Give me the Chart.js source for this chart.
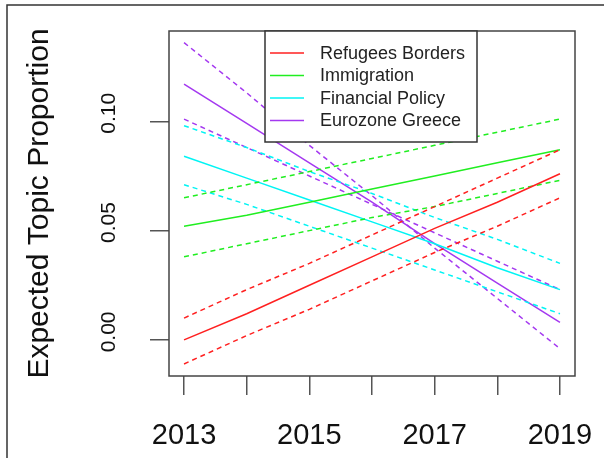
<!DOCTYPE html>
<html>
<head>
<meta charset="utf-8">
<script src="https://cdn.jsdelivr.net/npm/chart.js@4.4.0/dist/chart.umd.min.js"></script>
<style>
  html, body { margin: 0; padding: 0; background: #fff; }
  canvas { display: block; }
</style>
</head>
<body>
<canvas id="chart" width="604" height="458"></canvas>
<script>
// values, one point per year
const years = [2013, 2014, 2015, 2016, 2017, 2018, 2019];
const topics = ['Refugees Borders', 'Immigration', 'Financial Policy', 'Eurozone Greece'];
const yTickValues = [0.00, 0.05, 0.10];

const refugeesMean  = [0.000, 0.012, 0.025, 0.038, 0.051, 0.063, 0.076];
const refugeesUpper = [0.010, 0.023, 0.035, 0.048, 0.061, 0.074, 0.087];
const refugeesLower = [-0.011, 0.002, 0.014, 0.027, 0.040, 0.052, 0.065];

const immigrationMean  = [0.052, 0.057, 0.063, 0.069, 0.075, 0.081, 0.087];
const immigrationUpper = [0.065, 0.071, 0.077, 0.083, 0.089, 0.095, 0.101];
const immigrationLower = [0.038, 0.044, 0.050, 0.056, 0.061, 0.067, 0.073];

const financialMean  = [0.084, 0.074, 0.064, 0.054, 0.044, 0.033, 0.023];
const financialUpper = [0.098, 0.088, 0.077, 0.067, 0.056, 0.046, 0.035];
const financialLower = [0.071, 0.062, 0.052, 0.042, 0.032, 0.022, 0.012];

const eurozoneMean  = [0.117, 0.099, 0.081, 0.063, 0.044, 0.026, 0.008];
const eurozoneUpper = [0.136, 0.113, 0.089, 0.066, 0.042, 0.019, -0.004];
const eurozoneLower = [0.101, 0.088, 0.075, 0.062, 0.049, 0.036, 0.023];

const colors = ['#ff2020', '#20ee20', '#00f4f4', '#a438f0'];
const FONT = '"Liberation Sans", Arial, sans-serif';

const series = [
  [refugeesMean, refugeesUpper, refugeesLower],
  [immigrationMean, immigrationUpper, immigrationLower],
  [financialMean, financialUpper, financialLower],
  [eurozoneMean, eurozoneUpper, eurozoneLower]
];

const datasets = [];
series.forEach((s, i) => {
  s.forEach((vals, j) => {
    datasets.push({
      label: j === 0 ? topics[i] : topics[i] + ' CI',
      data: years.map((yr, k) => ({ x: yr, y: vals[k] })),
      borderColor: colors[i],
      borderWidth: 1.5,
      borderDash: j === 0 ? [] : [5, 4],
      pointRadius: 0,
      tension: 0,
      fill: false
    });
  });
});

// R style bits: outer frame, plot box, rotated y labels, title and legend box
const rStyle = {
  id: 'rStyle',
  beforeDraw(chart) {
    const ctx = chart.ctx;
    ctx.save();
    ctx.fillStyle = '#fff';
    ctx.fillRect(0, 0, chart.width, chart.height);
    ctx.strokeStyle = '#333';
    ctx.lineWidth = 1.5;
    ctx.beginPath();
    ctx.moveTo(7, chart.height);
    ctx.lineTo(7, 5);
    ctx.lineTo(chart.width, 5);
    ctx.stroke();
    ctx.restore();
  },
  afterDraw(chart) {
    const ctx = chart.ctx;
    const a = chart.chartArea;
    const yScale = chart.scales.y;
    ctx.save();
    ctx.strokeStyle = '#444';
    ctx.lineWidth = 1.5;
    ctx.strokeRect(a.left, a.top, a.right - a.left, a.bottom - a.top);

    // y tick labels, parallel to the axis
    ctx.fillStyle = '#111';
    ctx.font = '21px ' + FONT;
    ctx.textAlign = 'center';
    ctx.textBaseline = 'alphabetic';
    yScale.ticks.forEach(t => {
      const py = yScale.getPixelForValue(t.value) - 8;
      ctx.save();
      ctx.translate(115, py);
      ctx.rotate(-Math.PI / 2);
      ctx.fillText(t.value.toFixed(2), 0, 0);
      ctx.restore();
    });

    // y title
    ctx.font = '30px ' + FONT;
    ctx.save();
    ctx.translate(48, (a.top + a.bottom) / 2);
    ctx.rotate(-Math.PI / 2);
    ctx.fillText('Expected Topic Proportion', 0, 0);
    ctx.restore();

    // legend
    const lx = 265, ly = a.top, lw = 212, lh = 111;
    ctx.fillStyle = '#fff';
    ctx.fillRect(lx, ly, lw, lh);
    ctx.strokeStyle = '#333';
    ctx.strokeRect(lx, ly, lw, lh);
    ctx.font = '18px ' + FONT;
    ctx.textAlign = 'left';
    ctx.textBaseline = 'middle';
    topics.forEach((name, i) => {
      const rowY = ly + 22 + i * 22.5;
      ctx.strokeStyle = colors[i];
      ctx.lineWidth = 1.5;
      ctx.beginPath();
      ctx.moveTo(270, rowY);
      ctx.lineTo(304, rowY);
      ctx.stroke();
      ctx.fillStyle = '#222';
      ctx.fillText(name, 320, rowY + 1);
    });
    ctx.restore();
  }
};

new Chart(document.getElementById('chart'), {
  type: 'line',
  data: { datasets: datasets },
  options: {
    responsive: false,
    animation: false,
    layout: { padding: { top: 31, right: 29, left: 0, bottom: 0 } },
    plugins: { legend: { display: false }, tooltip: { enabled: false } },
    scales: {
      x: {
        type: 'linear',
        min: 2012.76,
        max: 2019.24,
        afterFit: s => { s.height = 82; s.paddingLeft = 0; s.paddingRight = 0; },
        grid: { display: true, drawOnChartArea: false, drawTicks: true, tickLength: 19, color: '#555', lineWidth: 1.5 },
        border: { display: false },
        ticks: {
          stepSize: 1,
          includeBounds: false,
          autoSkip: false,
          maxRotation: 0,
          padding: 24,
          color: '#111',
          font: { family: FONT, size: 29 },
          callback: v => (v % 2 === 1 ? String(v) : '')
        }
      },
      y: {
        min: -0.0165,
        max: 0.1413,
        afterFit: s => { s.width = 169; s.paddingTop = 0; s.paddingBottom = 0; },
        afterBuildTicks: s => { s.ticks = yTickValues.map(v => ({ value: v })); },
        grid: { display: true, drawOnChartArea: false, drawTicks: true, tickLength: 19, color: '#555', lineWidth: 1.5 },
        border: { display: false },
        ticks: { display: false }
      }
    }
  },
  plugins: [rStyle]
});
</script>
</body>
</html>
